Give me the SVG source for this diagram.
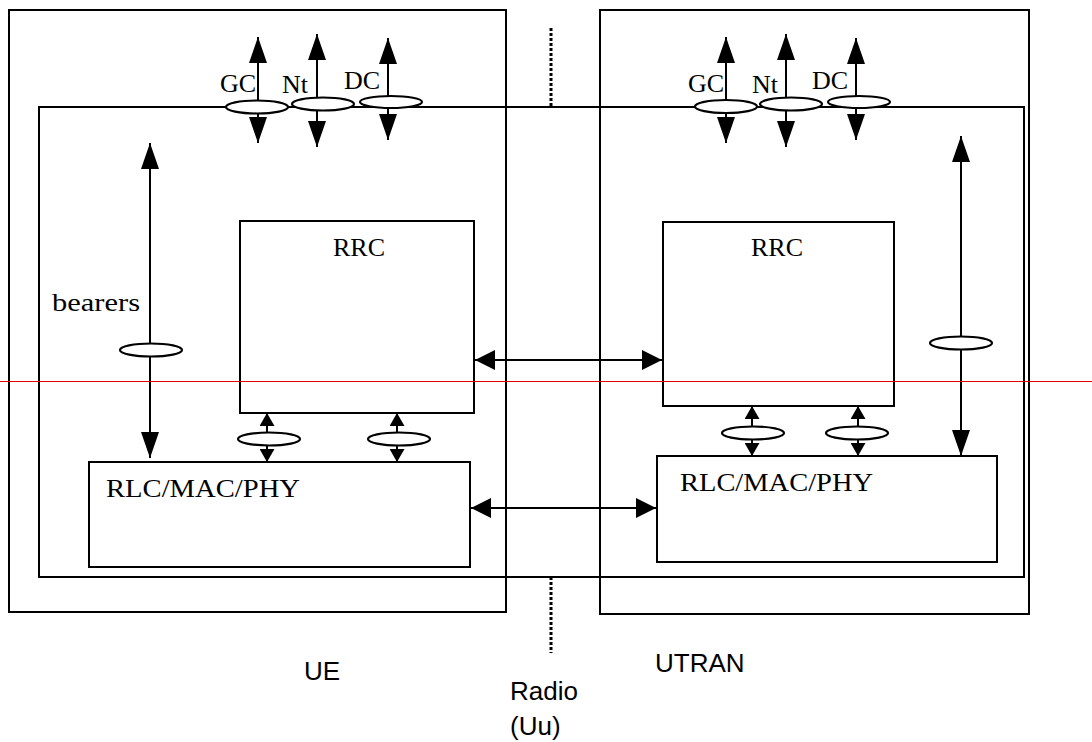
<svg xmlns="http://www.w3.org/2000/svg" width="1092" height="742" viewBox="0 0 1092 742">
<style>
.box{fill:none;stroke:#000;stroke-width:2}
.wbox{fill:#fff;stroke:#000;stroke-width:2}
.ln{stroke:#000;stroke-width:2;fill:none}
.ell{fill:#fff;stroke:#000;stroke-width:2.2}
.t{font-family:"Liberation Serif","Times New Roman",serif;font-size:26px;fill:#000}
.a{font-family:"Liberation Sans",Arial,sans-serif;font-size:26px;fill:#000}
.big{marker-start:url(#mb);marker-end:url(#mb)}
.med{marker-start:url(#mm);marker-end:url(#mm)}
.sm{marker-start:url(#ms);marker-end:url(#ms)}
</style>
<defs>
<marker id="mb" markerUnits="userSpaceOnUse" viewBox="0 0 26 18" markerWidth="26" markerHeight="18" refX="26" refY="9" orient="auto-start-reverse"><path d="M0,0 L26,9 L0,18 z" fill="#000"/></marker>
<marker id="mm" markerUnits="userSpaceOnUse" viewBox="0 0 20 20" markerWidth="20" markerHeight="20" refX="20" refY="10" orient="auto-start-reverse"><path d="M0,0 L20,10 L0,20 z" fill="#000"/></marker>
<marker id="ms" markerUnits="userSpaceOnUse" viewBox="0 0 13 15" markerWidth="13" markerHeight="15" refX="13" refY="7.5" orient="auto-start-reverse"><path d="M0,0 L13,7.5 L0,15 z" fill="#000"/></marker>
</defs>
<rect width="1092" height="742" fill="#fff"/>
<g id="ue-outer"><rect class="box" x="9" y="10" width="497" height="602"/></g>
<g id="utran-outer"><rect class="box" x="600" y="10" width="429" height="604"/></g>
<g id="inner"><rect class="box" x="39" y="107" width="985" height="470"/></g>
<g id="radio-boundary">
<line x1="551" y1="28" x2="551" y2="107" stroke="#000" stroke-width="3" stroke-dasharray="3 2"/>
<line x1="551" y1="577" x2="551" y2="653" stroke="#000" stroke-width="3" stroke-dasharray="3 2"/>
</g>
<g id="rrc-ue"><rect class="wbox" x="240" y="221" width="234" height="192"/><text class="t" x="333" y="256">RRC</text></g>
<g id="rrc-utran"><rect class="wbox" x="663" y="222" width="231" height="184"/><text class="t" x="751" y="256">RRC</text></g>
<g id="rlc-ue"><rect class="wbox" x="89" y="462" width="381" height="105"/><text class="t" x="106" y="497" textLength="194" lengthAdjust="spacingAndGlyphs">RLC/MAC/PHY</text></g>
<g id="rlc-utran"><rect class="wbox" x="657" y="456" width="340" height="106"/><text class="t" x="680" y="491" textLength="193" lengthAdjust="spacingAndGlyphs">RLC/MAC/PHY</text></g>
<g id="connectors">
<line class="ln big" x1="258" y1="37" x2="258" y2="143"/>
<line class="ln big" x1="317" y1="34" x2="317" y2="147"/>
<line class="ln big" x1="388" y1="38" x2="388" y2="140"/>
<line class="ln big" x1="726" y1="37" x2="726" y2="143"/>
<line class="ln big" x1="786" y1="34" x2="786" y2="147"/>
<line class="ln big" x1="856" y1="38" x2="856" y2="140"/>
<ellipse class="ell" cx="257" cy="107" rx="31" ry="6.5"/>
<ellipse class="ell" cx="323" cy="104" rx="31" ry="6.5"/>
<ellipse class="ell" cx="391" cy="102" rx="31" ry="6"/>
<ellipse class="ell" cx="726" cy="106.5" rx="31" ry="6.5"/>
<ellipse class="ell" cx="791" cy="104" rx="31" ry="6.5"/>
<ellipse class="ell" cx="859" cy="102" rx="31" ry="6"/>
<line class="ln big" x1="150" y1="143" x2="150" y2="458"/>
<ellipse class="ell" cx="151" cy="350" rx="31" ry="6.5"/>
<line class="ln big" x1="961" y1="136" x2="961" y2="456"/>
<ellipse class="ell" cx="961" cy="343" rx="31" ry="6.5"/>
<line class="ln sm" x1="267" y1="413" x2="267" y2="462"/>
<ellipse class="ell" cx="269" cy="439" rx="31" ry="6.5"/>
<line class="ln sm" x1="397" y1="413" x2="397" y2="462"/>
<ellipse class="ell" cx="399" cy="439" rx="31" ry="6.5"/>
<line class="ln sm" x1="752" y1="406" x2="752" y2="456"/>
<ellipse class="ell" cx="753" cy="433" rx="31" ry="6.5"/>
<line class="ln sm" x1="858" y1="406" x2="858" y2="456"/>
<ellipse class="ell" cx="857" cy="433" rx="31" ry="6.5"/>
<line class="ln med" x1="475" y1="360" x2="662" y2="360"/>
<line class="ln med" x1="471" y1="508" x2="656" y2="508"/>
</g>
<g id="labels">
<text class="t" x="220" y="92">GC</text>
<text class="t" x="282" y="93">Nt</text>
<text class="t" x="344" y="89">DC</text>
<text class="t" x="688" y="92">GC</text>
<text class="t" x="752" y="93">Nt</text>
<text class="t" x="812" y="89">DC</text>
<text class="t" x="52" y="311" textLength="88" lengthAdjust="spacingAndGlyphs">bearers</text>
<text class="a" x="304" y="680">UE</text>
<text class="a" x="655" y="672">UTRAN</text>
<text class="a" x="510" y="700">Radio</text>
<text class="a" x="510" y="735">(Uu)</text>
</g>
<line id="guide" x1="0" y1="381.5" x2="1092" y2="381.5" stroke="#e00000" stroke-width="1"/>
</svg>
